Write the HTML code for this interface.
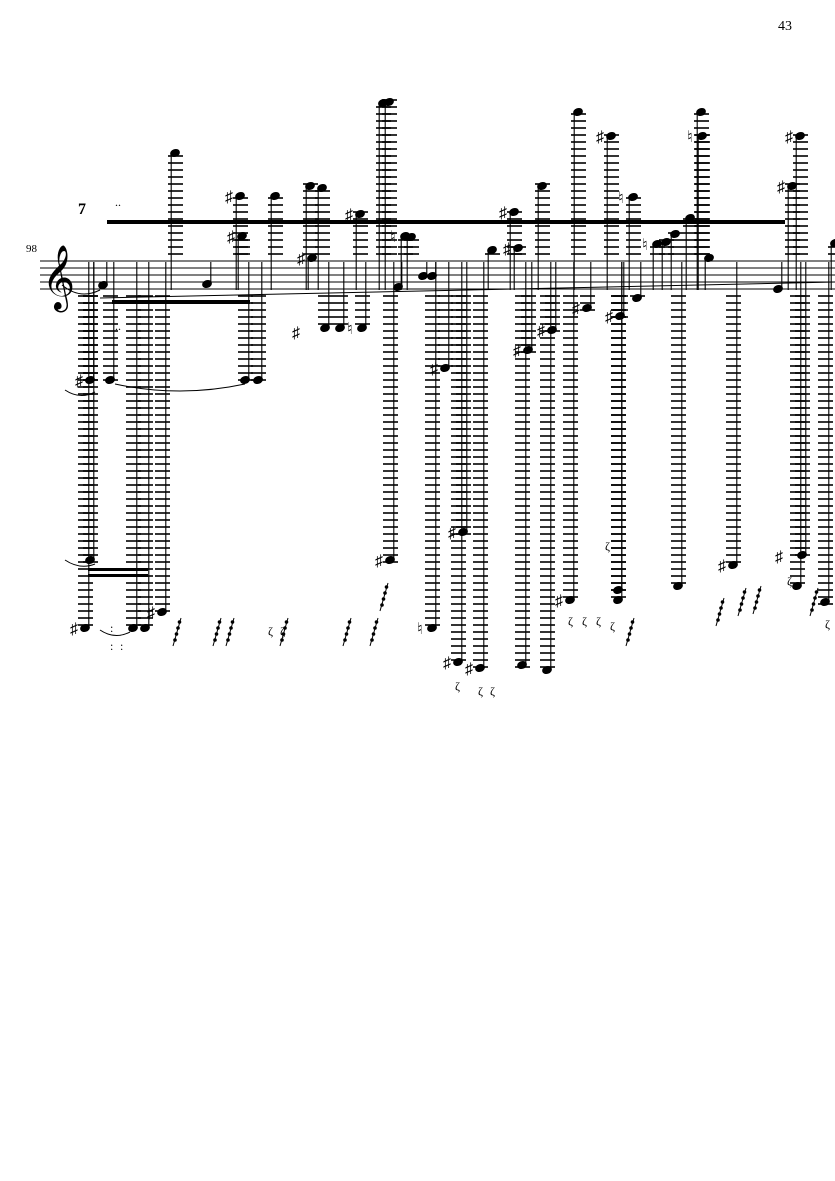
<!DOCTYPE html>
<html><head><meta charset="utf-8"><style>
html,body{margin:0;padding:0;background:#fff;width:835px;height:1181px;overflow:hidden}
svg{display:block}
text{font-family:"Liberation Serif",serif}
</style></head><body>
<svg id="s" width="835" height="1181" viewBox="0 0 835 1181" xmlns="http://www.w3.org/2000/svg">
<text x="778" y="30" font-size="14">43</text>
<text x="26" y="252" font-size="11">98</text>
<g stroke="#000" stroke-width="1">
<line x1="40" y1="261" x2="835" y2="261"/><line x1="40" y1="268" x2="835" y2="268"/>
<line x1="40" y1="275" x2="835" y2="275"/><line x1="40" y1="282" x2="835" y2="282"/>
<line x1="40" y1="289" x2="835" y2="289"/>
</g>
<text x="42" y="296" font-size="56" font-family="DejaVu Sans">𝄞</text>
<text x="78" y="214" font-size="16" font-weight="bold">7</text>
<text x="115" y="206" font-size="12">..</text>
<rect x="107" y="220" width="678" height="4" fill="#000"/>
<rect x="112" y="300" width="138" height="4" fill="#000"/>
<rect x="88" y="568" width="60" height="3" fill="#000"/>
<rect x="88" y="574" width="60" height="3" fill="#000"/>
<path d="M62 285 Q80 300 100 290" fill="none" stroke="#000"/>
<path d="M100 298 Q450 290 835 282" fill="none" stroke="#000"/>
<path d="M115 384 Q180 398 245 384" fill="none" stroke="#000"/>
<path d="M65 390 Q80 400 95 392" fill="none" stroke="#000"/>
<path d="M65 560 Q80 570 95 564" fill="none" stroke="#000"/>
<path d="M100 630 Q115 640 130 632" fill="none" stroke="#000"/>
<g id="g" stroke="#000" fill="#000"></g>
</svg>
<script>
var g=document.getElementById('g'),NS='http://www.w3.org/2000/svg';
function el(t,a){var e=document.createElementNS(NS,t);for(var k in a)e.setAttribute(k,a[k]);g.appendChild(e);return e}
function txt(x,y,s,fs){var e=el('text',{x:x,y:y,'font-size':fs||14,stroke:'none'});e.textContent=s;}
function note(x,y,acc){
  if(y<258){for(var l=254;l>=y-2;l-=7)el('line',{x1:x-7,y1:l,x2:x+8,y2:l,'stroke-width':1.6});}
  if(y>292){for(var l=296;l<=y+2;l+=7)el('line',{x1:x-7,y1:l,x2:x+8,y2:l,'stroke-width':1.6});}
  el('ellipse',{cx:x,cy:y,rx:4.5,ry:3.4,transform:'rotate(-20 '+x+' '+y+')'});
  var sx=x+(y<275?-3.8:3.8);
  el('line',{x1:sx,y1:y,x2:sx,y2:(y<275?290:262),'stroke-width':1.1});
  if(acc)txt(x-15,y+6,acc,16);
}
var up=[[103,285],[175,153],[207,284],[240,196,'♯'],[242,236,'♯'],[275,196],[310,186],[322,188],[312,258,'♯'],[360,214,'♯'],[383,103],[389,102],[405,236,'♮'],[411,237],[423,276],[432,276],[398,287],[492,250],[518,248,'♯'],[514,212,'♯'],[542,186],[578,112],[611,136,'♯'],[633,197,'♮'],[637,298],[657,244,'♮'],[666,242],[675,234],[690,218],[702,136,'♮'],[701,112],[709,258],[778,289],[792,186,'♯'],[800,136,'♯'],[835,243]];
var dn=[[90,380,'♯'],[90,560],[85,628,'♯'],[110,380],[245,380],[258,380],[133,628],[145,628],[162,612,'♯'],[325,328],[340,328],[362,328,'♮'],[390,560,'♯'],[445,368,'♯'],[432,628,'♮'],[458,662,'♯'],[480,668,'♯'],[463,532,'♯'],[522,665],[547,670],[528,350,'♯'],[552,330,'♯'],[570,600,'♯'],[587,308,'♯'],[620,316,'♯'],[618,600],[618,590],[678,586],[733,565,'♯'],[797,586],[802,555],[825,602]];
up.forEach(function(n){note(n[0],n[1],n[2])});
dn.forEach(function(n){note(n[0],n[1],n[2])});
txt(292,338,'♯',16);txt(775,562,'♯',16);
[[175,640],[215,640],[228,640],[282,640],[345,640],[372,640],[382,605],[628,640],[718,620],[740,610],[755,608],[812,610]].forEach(function(p){
  for(var i=0;i<4;i++)el('circle',{cx:p[0]+i*1.5,cy:p[1]-i*6,r:1.3});
  el('line',{x1:p[0]-2,y1:p[1]+6,x2:p[0]+6,y2:p[1]-22,'stroke-width':1});
});
[[268,635],[280,635],[455,690],[478,695],[490,695],[568,625],[582,625],[596,625],[605,550],[610,630],[787,585],[825,628]].forEach(function(p){txt(p[0],p[1],'ζ',12)});
txt(115,330,'..',12);txt(110,632,':',12);txt(110,650,':',12);txt(120,650,':',12);
</script>
</body></html>
